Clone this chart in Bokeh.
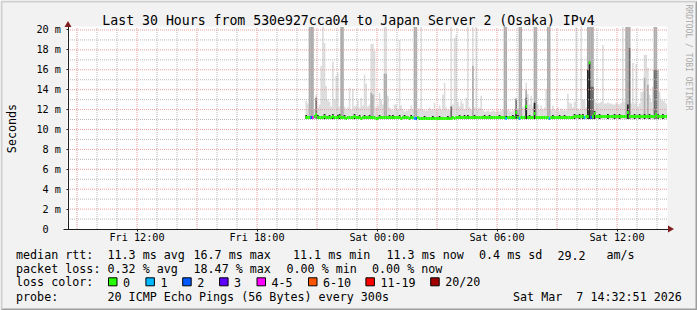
import math
from datetime import datetime, timedelta
from bokeh.plotting import figure
from bokeh.models import (Range1d, FixedTicker, DatetimeTickFormatter, CustomJSTickFormatter,
                          Label, BoxAnnotation, PolyAnnotation)
from bokeh.embed import file_html
from bokeh.resources import INLINE

# ---------------- data ----------------
TITLE = "Last 30 Hours from 530e927cca04 to Japan Server 2 (Osaka) IPv4"
GRAPH_END = datetime(2026, 3, 7, 14, 32, 51)
GRAPH_HOURS = 30
DATA_END = datetime(2026, 3, 7, 14, 30, 0)
STEP_MIN = 5

# highest ping of each 5 minute sample (ms)
SMOKE_MAX = [
    12.9, 12.6, 25.0, 25.0, 25.0, 12.0, 13.5, 12.2, 12.5, 16.4,
    25.0, 18.7, 14.4, 13.0, 12.8, 12.3, 16.8, 13.0, 15.4, 15.7,
    12.3, 25.0, 25.0, 12.3, 12.0, 12.2, 14.2, 12.0, 14.1, 12.3,
    12.4, 12.9, 12.2, 13.2, 12.4, 15.5, 14.6, 12.3, 12.5, 18.6,
    18.6, 17.9, 12.2, 12.4, 13.7, 13.0, 12.5, 25.0, 25.0, 13.4,
    12.2, 12.0, 11.9, 12.5, 12.5, 12.0, 19.0, 12.4, 12.0, 11.8,
    11.9, 11.9, 12.0, 12.4, 12.0, 25.0, 25.0, 12.0, 12.1, 25.0,
    12.0, 11.9, 11.9, 11.9, 12.2, 12.0, 12.0, 12.7, 12.0, 12.0,
    12.4, 12.0, 13.5, 14.7, 12.2, 12.0, 12.0, 25.0, 12.5, 19.2,
    19.5, 12.8, 12.3, 12.9, 12.6, 12.0, 13.2, 25.0, 12.2, 12.0,
    25.0, 12.2, 25.0, 12.0, 12.2, 13.4, 12.0, 11.8, 11.8, 11.9,
    11.8, 11.8, 11.9, 11.8, 11.8, 11.9, 11.8, 11.9, 12.0, 25.0,
    25.0, 12.0, 11.9, 11.8, 11.9, 12.0, 13.2, 12.0, 25.0, 25.0,
    12.2, 12.4, 14.7, 13.6, 12.5, 13.4, 12.3, 25.0, 25.0, 12.5,
    12.0, 12.4, 12.0, 12.2, 14.0, 25.0, 25.0, 12.0, 12.4, 12.0,
    11.9, 12.2, 11.9, 12.1, 11.9, 12.0, 11.9, 13.6, 12.7, 12.6,
    12.2, 12.8, 25.0, 12.1, 12.0, 25.0, 13.0, 13.0, 12.2, 25.0,
    25.0, 25.0, 25.0, 13.0, 12.7, 12.6, 12.7, 12.8, 18.5, 12.6,
    12.6, 12.7, 12.6, 12.6, 12.5, 12.5, 12.7, 12.6, 12.5, 12.7,
    25.0, 12.8, 25.0, 25.0, 25.0, 12.6, 16.7, 12.6, 16.6, 12.3,
    12.6, 13.8, 13.8, 17.5, 17.5, 16.2, 13.5, 12.8, 14.3, 25.0,
    25.0, 16.0, 13.8, 13.0, 12.9, 12.9, 12.6,
]
SMOKE_FLOOR = 11.05  # lowest pings (ms)

# median rtt of each sample (ms)
MEDIAN = [
    11.2, 11.2, 11.2, 11.2, 11.2, 11.3, 11.5, 11.2, 11.2, 11.2,
    11.2, 11.3, 11.2, 11.2, 11.2, 11.2, 11.3, 11.2, 11.2, 11.2,
    11.3, 11.2, 11.2, 11.2, 11.1, 11.2, 11.2, 11.2, 11.2, 11.3,
    11.2, 11.2, 11.2, 11.1, 11.2, 11.2, 11.2, 11.2, 11.2, 11.2,
    11.2, 11.2, 11.1, 11.1, 11.2, 11.2, 11.2, 11.2, 11.2, 11.2,
    11.2, 11.2, 11.2, 11.2, 11.2, 11.2, 11.2, 11.1, 11.2, 11.2,
    11.2, 11.2, 11.1, 11.2, 11.2, 11.1, 11.1, 11.2, 11.1, 11.1,
    11.1, 11.1, 11.1, 11.1, 11.1, 11.1, 11.1, 11.1, 11.1, 11.1,
    11.1, 11.1, 11.1, 11.1, 11.1, 11.1, 11.1, 11.1, 11.2, 11.1,
    11.2, 11.2, 11.2, 11.2, 11.2, 11.2, 11.2, 11.2, 11.2, 11.2,
    11.2, 11.2, 11.2, 11.2, 11.2, 11.2, 11.2, 11.2, 11.2, 11.2,
    11.2, 11.2, 11.2, 11.2, 11.2, 11.2, 11.2, 11.2, 11.2, 11.2,
    11.1, 11.2, 11.2, 11.2, 11.2, 11.2, 11.7, 11.2, 11.1, 11.2,
    11.2, 11.2, 12.3, 11.2, 11.2, 11.2, 11.2, 11.6, 11.2, 11.2,
    11.2, 11.2, 11.2, 11.2, 11.2, 11.2, 11.1, 11.2, 11.2, 11.2,
    11.2, 11.2, 11.2, 11.2, 11.2, 11.2, 11.2, 11.2, 11.2, 11.2,
    11.2, 11.3, 11.3, 11.3, 11.3, 11.3, 11.3, 11.2, 11.3, 11.3,
    16.7, 11.2, 11.3, 11.6, 11.3, 11.3, 11.3, 11.3, 11.3, 11.3,
    11.3, 11.3, 11.3, 11.3, 11.3, 11.3, 11.3, 11.3, 11.3, 11.3,
    11.3, 11.3, 11.3, 11.7, 11.3, 11.3, 11.3, 11.3, 11.3, 11.3,
    11.3, 11.3, 11.3, 11.3, 11.3, 11.3, 11.3, 11.3, 11.3, 11.3,
    11.5, 11.3, 11.3, 11.3, 11.3, 11.3, 11.3,
]

# outer-middle pings (medium grey smoke)
MID_IDX = [2, 3, 4, 21, 22, 39, 40, 47, 48, 65, 66, 100, 119, 120, 127, 128, 129, 132,
           137, 138, 145, 146, 169, 170, 171, 172, 192, 193, 194, 203, 205, 209, 210, 211]
MID_TOP = [25.0, 25.0, 25.0, 25.0, 25.0, 13.7, 13.5, 15.6, 15.6, 25.0, 25.0, 16.4, 25.0, 25.0,
           12.0, 25.0, 25.0, 14.0, 25.0, 25.0, 25.0, 25.0, 25.0, 25.0, 25.0, 25.0, 25.0, 25.0,
           25.0, 15.2, 14.5, 25.0, 25.0, 16.0]
# inner pings (dark grey smoke)
DEEP_IDX = [6, 87, 126, 132, 171, 172, 194, 209, 210]
DEEP_TOP = [13.2, 12.3, 13.1, 13.2, 14.3, 14.3, 18.2, 16.0, 16.0]
# innermost pings (near black smoke)
DARK_IDX = [0, 7, 11, 14, 16, 19, 20, 23, 29, 32, 35, 38, 44, 50, 52, 56, 59, 63, 71, 76,
            80, 85, 92, 95, 97, 101, 107, 110, 116, 120, 124, 126, 127, 132, 134, 137, 148,
            152, 155, 161, 164, 166, 169, 170, 173, 176, 181, 185, 188, 193, 197, 200, 203,
            206, 211, 214]
DARK_TOP = [11.45, 11.45, 11.55, 11.45, 11.55, 11.45, 11.55, 11.45, 11.55, 11.45, 11.45, 11.45,
            11.45, 11.45, 11.45, 11.45, 11.45, 11.45, 11.35, 11.35, 11.35, 11.35, 11.45, 11.45,
            11.45, 11.45, 11.45, 11.45, 11.45, 11.35, 11.45, 11.9, 11.45, 12.4, 11.45, 12.7,
            11.45, 11.45, 11.45, 11.55, 11.55, 11.55, 16.0, 16.8, 11.85, 11.55, 11.55, 11.55,
            11.55, 12.5, 11.55, 11.55, 11.55, 11.55, 11.55, 11.55]

# lost pings (out of 20) for samples with loss
LOSS_IDX = [3, 4, 65, 66, 120, 128, 146, 167, 171]
LOSS_CNT = [2, 5, 1, 2, 1, 1, 1, 1, 2]

LOSS_LABELS = ["0", "1", "2", "3", "4-5", "6-10", "11-19", "20/20"]
LOSS_UPPER = [0, 1, 2, 3, 5, 10, 19, 20]
LOSS_COLORS = ["#26ff00", "#00b8ff", "#0059ff", "#5e00ff", "#ff00ff", "#ff5500", "#ff0000", "#a10000"]

Y_TICKS = [0, 2, 4, 6, 8, 10, 12, 14, 16, 18, 20]
Y_MINOR = [1, 3, 5, 7, 9, 11, 13, 15, 17, 19]
X_LABEL_TIMES = [datetime(2026, 3, 6, 12), datetime(2026, 3, 6, 18), datetime(2026, 3, 7, 0),
                 datetime(2026, 3, 7, 6), datetime(2026, 3, 7, 12)]
X_GRID_START = datetime(2026, 3, 6, 9)
X_GRID_HOURS = 30          # hourly minor grid
X_MAJOR_EVERY = 3          # major grid every 3 h

STATS_RTT = ["median rtt:", "11.3 ms avg", "16.7 ms max", "11.1 ms min", "11.3 ms now",
             "0.4 ms sd", "29.2", "am/s"]
STATS_LOSS = ["packet loss:", "0.32 % avg", "18.47 % max", "0.00 % min", "0.00 % now"]
PROBE = ["probe:", "20 ICMP Echo Pings (56 Bytes) every 300s", "Sat Mar \u00a07 14:32:51 2026"]

# ---------------- layout ----------------
W, H = 697, 310
FX0, FX1, FY0, FY1 = 67.5, 667.5, 26.5, 228.5   # graph area (pixel centres)
YMAX = 20.3
MONO = "DejaVu Sans Mono"

EPOCH = datetime(1970, 1, 1)
def ms(d):
    return (d - EPOCH).total_seconds() * 1000.0

X0 = ms(GRAPH_END - timedelta(hours=GRAPH_HOURS))
X1 = ms(GRAPH_END)

def dx(px):
    return X0 + (px - FX0) / (FX1 - FX0) * (X1 - X0)

def dy(py):
    return YMAX * (FY1 - py) / (FY1 - FY0)

p = figure(width=W, height=H, x_axis_type="datetime", output_backend="svg", toolbar_location=None,
           x_range=Range1d(dx(0), dx(W)), y_range=Range1d(dy(H), dy(0)),
           min_border=0, background_fill_color="#f2f2f2",
           border_fill_color="#f2f2f2", outline_line_color=None)
p.grid.visible = False

# canvas shade and white graph area
p.add_layout(PolyAnnotation(xs=[dx(0), dx(2), dx(2), dx(695), dx(697), dx(0)],
                            ys=[dy(310), dy(308), dy(2), dy(2), dy(0), dy(0)],
                            fill_color="#cfcfcf", fill_alpha=1, line_color=None, level="underlay"))
p.add_layout(PolyAnnotation(xs=[dx(0), dx(697), dx(697), dx(695), dx(695), dx(2)],
                            ys=[dy(310), dy(310), dy(0), dy(2), dy(308), dy(308)],
                            fill_color="#9e9e9e", fill_alpha=1, line_color=None, level="underlay"))
p.add_layout(BoxAnnotation(left=dx(67), right=dx(667), top=dy(26), bottom=dy(228.5),
                           fill_color="white", fill_alpha=1, line_color=None, level="underlay"))

# axes fixed onto the graph area
xa = p.xaxis[0]
xa.fixed_location = 0
xa.bounds = (dx(63), dx(668))
xa.ticker = FixedTicker(ticks=[ms(t) for t in X_LABEL_TIMES], minor_ticks=[])
fmt = "%a %H:%M"
xa.formatter = DatetimeTickFormatter(milliseconds=fmt, seconds=fmt, minsec=fmt, minutes=fmt,
                                     hourmin=fmt, hours=fmt, days=fmt, months=fmt, years=fmt)
xa.major_label_standoff = 1
ya = p.yaxis[0]
ya.fixed_location = X0
ya.bounds = (0, dy(25))
ya.ticker = FixedTicker(ticks=Y_TICKS, minor_ticks=[])
ya.formatter = CustomJSTickFormatter(code="return tick == 0 ? '0\u00a0\u00a0' : tick + ' m';")
ya.major_label_standoff = 5
for ax in (xa, ya):
    ax.axis_line_color = "#1f1f1f"
    ax.major_tick_line_color = "#1f1f1f"
    ax.major_tick_in = 0
    ax.major_tick_out = 2
    ax.minor_tick_line_color = None
    ax.major_label_text_font = MONO
    ax.major_label_text_font_size = "10.2px"
    ax.major_label_text_color = "black"

# ---------------- smoke ----------------
N = len(SMOKE_MAX)
t_start = DATA_END - timedelta(minutes=STEP_MIN * N)
edges = [ms(t_start + timedelta(minutes=STEP_MIN * k)) for k in range(N + 1)]

xs, ys = [], []
for k in range(N):
    v = min(SMOKE_MAX[k], YMAX)
    xs += [edges[k], edges[k + 1]]
    ys += [v, v]
p.varea(x=xs, y1=SMOKE_FLOOR, y2=ys, fill_color="#dddddd")

for idx, tops, col in ((MID_IDX, MID_TOP, "#adadad"), (DEEP_IDX, DEEP_TOP, "#6b6b6b"),
                       (DARK_IDX, DARK_TOP, "#222222")):
    p.quad(left=[edges[i] for i in idx], right=[edges[i + 1] for i in idx],
           bottom=SMOKE_FLOOR, top=[min(t, YMAX) for t in tops], fill_color=col, line_color=None)

# ---------------- grid (dotted, drawn over the smoke) ----------------
minor_t, major_t = [], []
for h in range(X_GRID_HOURS):
    t = ms(X_GRID_START + timedelta(hours=h))
    (major_t if h % X_MAJOR_EVERY == 0 else minor_t).append(t)
p.segment(x0=X0, x1=X1, y0=Y_MINOR, y1=Y_MINOR, line_color="#b8b8b8", line_dash="1 1", line_width=1)
p.segment(x0=minor_t, x1=minor_t, y0=0, y1=YMAX, line_color="#b8b8b8", line_dash="1 1", line_width=1)
p.segment(x0=X0, x1=X1, y0=Y_TICKS[1:], y1=Y_TICKS[1:], line_color="#e89a9a", line_dash="1 1",
          line_width=1)
p.segment(x0=major_t, x1=major_t, y0=0, y1=YMAX, line_color="#e89a9a", line_dash="1 1", line_width=1)

# ---------------- median line coloured by loss ----------------
loss_of = dict(zip(LOSS_IDX, LOSS_CNT))
def loss_color(n):
    for up, c in zip(LOSS_UPPER, LOSS_COLORS):
        if n <= up:
            return c
    return LOSS_COLORS[-1]
med_colors = [loss_color(loss_of.get(k, 0)) for k in range(N)]
p.segment(x0=edges[:-1], x1=edges[1:], y0=MEDIAN, y1=MEDIAN, line_color=med_colors,
          line_width=3, line_cap="butt")

# ---------------- arrows ----------------
p.add_layout(PolyAnnotation(xs=[dx(64), dx(67.5), dx(71)], ys=[dy(26.5), dy(20.5), dy(26.5)],
                            fill_color="#801f1f", fill_alpha=1, line_color=None))
p.add_layout(PolyAnnotation(xs=[dx(667.5), dx(673.5), dx(667.5)], ys=[dy(225), dy(228.5), dy(232)],
                            fill_color="#801f1f", fill_alpha=1, line_color=None))

# ---------------- texts ----------------
def text(s, px, py, size="11.7px", align="left", angle=0.0, color="black"):
    p.add_layout(Label(x=dx(px), y=dy(py), text=s, text_font=MONO, text_font_size=size,
                       text_align=align, text_baseline="middle", angle=angle, text_color=color))

text(TITLE, 348, 19.5, size="13.2px", align="center")
text("Seconds", 11, 128, angle=math.pi / 2, align="center")
text("RRDTOOL / TOBI OETIKER", 688, 4, size="8px", angle=-math.pi / 2, color="#aaaaaa")

rtt_x = [15.5, 107, 193, 292.5, 386, 478.5, 557, 606]
for s, x in zip(STATS_RTT, rtt_x):
    text(s, x, 254.5)
loss_x = [15.5, 107, 193, 286, 371.5]
for s, x in zip(STATS_LOSS, loss_x):
    text(s, x, 268)
text("loss color:", 15.5, 281.5)
box_x = [108, 145.4, 182.2, 219.1, 256.5, 308, 365.4, 430.2]
for lab, c, bx in zip(LOSS_LABELS, LOSS_COLORS, box_x):
    p.add_layout(BoxAnnotation(left=dx(bx), right=dx(bx + 8.5), top=dy(277.3), bottom=dy(285.3),
                               fill_color=c, fill_alpha=1, line_color="black", line_width=1,
                               line_alpha=1))
    text(lab, bx + 14.5, 281.5)
probe_x = [15.5, 107, 512.5]
for s, x in zip(PROBE, probe_x):
    text(s, x, 296.5)

open("out.html", "w").write(file_html(p, INLINE))
